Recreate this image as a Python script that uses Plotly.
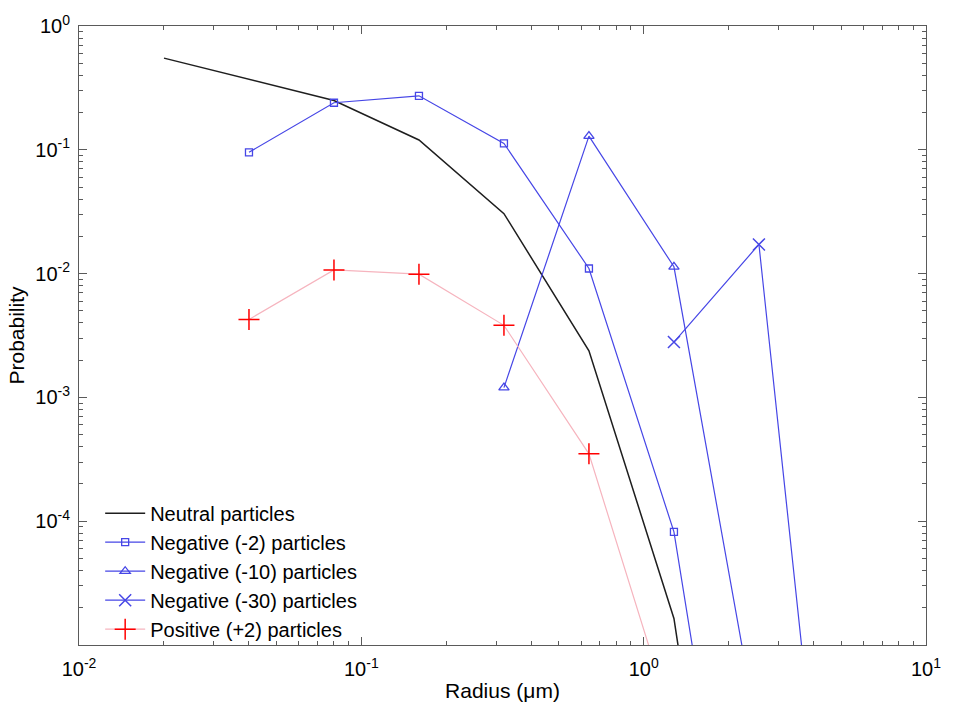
import plotly.graph_objects as go

# ---- data ----
neutral_r = [0.02, 0.04, 0.08, 0.16, 0.32, 0.64, 1.28, 2.56]
neutral_p = [0.55, 0.37, 0.25, 0.12, 0.0305, 0.00238, 1.64e-5, 5e-10]

neg2_r = [0.04, 0.08, 0.16, 0.32, 0.64, 1.28, 2.56]
neg2_p = [0.0954, 0.240, 0.273, 0.1127, 0.0110, 8.2e-5, 4.5e-9]

neg10_r = [0.32, 0.64, 1.28, 2.56]
neg10_p = [0.0012, 0.129, 0.01135, 1.7e-6]

neg30_r = [1.28, 2.56, 5.12]
neg30_p = [0.0028, 0.0172, 6e-9]

pos2_r = [0.04, 0.08, 0.16, 0.32, 0.64, 1.28]
pos2_p = [0.00426, 0.0107, 0.0099, 0.00382, 3.5e-4, 2.2e-6]

x_tickvals = [0.01, 0.1, 1, 10]
x_ticktext = ["10<sup>-2</sup>", "10<sup>-1</sup>", "10<sup>0</sup>", "10<sup>1</sup>"]
y_tickvals = [1e-4, 1e-3, 1e-2, 1e-1, 1]
y_ticktext = ["10<sup>-4</sup>", "10<sup>-3</sup>", "10<sup>-2</sup>", "10<sup>-1</sup>", "10<sup>0</sup>"]

x_minor = [m * 10.0 ** e for e in range(-2, 1) for m in range(2, 10)]
y_minor = [m * 10.0 ** e for e in range(-5, 0) for m in range(2, 10)]

BLUE = "rgb(70,70,230)"
FONT = "Liberation Sans, Arial, sans-serif"

fig = go.Figure()
fig.add_trace(go.Scatter(x=neutral_r, y=neutral_p, mode="lines", name="Neutral particles",
                         line=dict(color="rgb(30,30,30)", width=1.5)))
fig.add_trace(go.Scatter(x=neg2_r, y=neg2_p, mode="lines+markers", name="Negative (-2) particles",
                         line=dict(color=BLUE, width=1.2),
                         marker=dict(symbol="square-open", size=7, color=BLUE, line=dict(width=1.3, color=BLUE))))
fig.add_trace(go.Scatter(x=neg10_r, y=neg10_p, mode="lines+markers", name="Negative (-10) particles",
                         line=dict(color=BLUE, width=1.2),
                         marker=dict(symbol="triangle-up-open", size=9, color=BLUE, line=dict(width=1.3, color=BLUE))))
fig.add_trace(go.Scatter(x=neg30_r, y=neg30_p, mode="lines+markers", name="Negative (-30) particles",
                         line=dict(color=BLUE, width=1.2),
                         marker=dict(symbol="x-thin", size=12, color=BLUE, line=dict(width=1.5, color=BLUE))))
fig.add_trace(go.Scatter(x=pos2_r, y=pos2_p, mode="lines+markers", name="Positive (+2) particles",
                         line=dict(color="rgb(246,180,190)", width=1.2),
                         marker=dict(symbol="cross-thin", size=15, color="red", line=dict(width=1.5, color="red"))))

axis_common = dict(
    type="log", showgrid=False, zeroline=False, showline=True, linecolor="rgb(90,90,90)", linewidth=1,
    mirror="ticks", ticks="inside", ticklen=8, tickcolor="rgb(90,90,90)", tickwidth=1,
    tickfont=dict(family=FONT, size=20, color="black"),
)

fig.update_xaxes(**axis_common, range=[-2, 1], tickmode="array", tickvals=x_tickvals, ticktext=x_ticktext,
                 ticklabelstandoff=6,
                 minor=dict(tickmode="array", tickvals=x_minor, ticks="inside", ticklen=4,
                            tickcolor="rgb(90,90,90)", showgrid=False),
                 title=dict(text="Radius (\u03bcm)", font=dict(family=FONT, size=21, color="black"), standoff=4))
fig.update_yaxes(**axis_common, range=[-5, 0], tickmode="array", tickvals=y_tickvals, ticktext=y_ticktext,
                 ticklabelstandoff=4,
                 minor=dict(tickmode="array", tickvals=y_minor, ticks="inside", ticklen=4,
                            tickcolor="rgb(90,90,90)", showgrid=False),
                 title=dict(text="Probability", font=dict(family=FONT, size=21, color="black"), standoff=4))

fig.update_layout(
    width=953, height=711,
    margin=dict(l=79, r=19, t=25, b=62),
    paper_bgcolor="white", plot_bgcolor="white",
    font=dict(family=FONT, size=20, color="black"),
    legend=dict(x=0.025, y=-0.006, xanchor="left", yanchor="bottom", bgcolor="rgba(0,0,0,0)",
                font=dict(family=FONT, size=20, color="black"), tracegroupgap=0, itemwidth=40),
    showlegend=True,
)

fig.write_html("out.html")
